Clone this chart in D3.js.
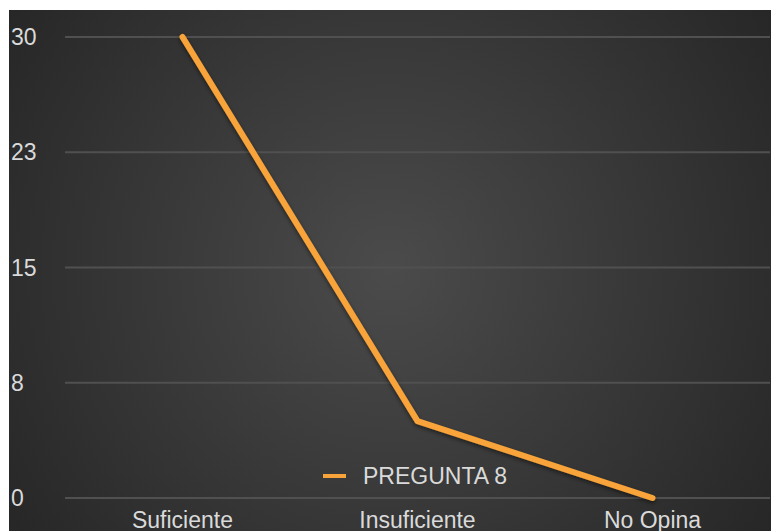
<!DOCTYPE html>
<html>
<head>
<meta charset="utf-8">
<script src="https://cdn.jsdelivr.net/npm/d3@7"></script>
<style>
  body { margin: 0; background: #fff; }
  svg { display: block; }
</style>
</head>
<body>
<script>
var categories = ["Suficiente", "Insuficiente", "No Opina"];
var values = [30, 5, 0];
var tickValues = [0, 7.5, 15, 22.5, 30];
var tickLabels = ["0", "8", "15", "23", "30"];
var seriesName = "PREGUNTA 8";

var width = 771, height = 531;
var panel = { x: 9, y: 10, w: 762, h: 521 };
var plot = { left: 65, right: 770, top: 37, bottom: 498 };
var lineColor = "#f9a43a";
var textColor = "#dadada";
var font = "'Liberation Sans', Arial, sans-serif";
var fontSize = "23px";

var svg = d3.select("body").append("svg")
  .attr("width", width)
  .attr("height", height);

var defs = svg.append("defs");
var grad = defs.append("radialGradient")
  .attr("id", "bg")
  .attr("gradientUnits", "userSpaceOnUse")
  .attr("cx", 390).attr("cy", 270).attr("r", 470);
grad.append("stop").attr("offset", "0%").attr("stop-color", "#4b4b4b");
grad.append("stop").attr("offset", "100%").attr("stop-color", "#262626");

var shadow = defs.append("filter").attr("id", "shadow")
  .attr("x", "-10%").attr("y", "-10%").attr("width", "120%").attr("height", "120%");
shadow.append("feDropShadow")
  .attr("dx", 0).attr("dy", 2).attr("stdDeviation", 2)
  .attr("flood-color", "#000").attr("flood-opacity", 0.5);

svg.append("rect")
  .attr("x", panel.x).attr("y", panel.y)
  .attr("width", panel.w).attr("height", panel.h)
  .attr("fill", "url(#bg)");

var x = d3.scalePoint()
  .domain(categories)
  .range([plot.left, plot.right])
  .padding(0.5);

var y = d3.scaleLinear()
  .domain([0, 30])
  .range([plot.bottom, plot.top]);

// gridlines
svg.append("g").selectAll("line")
  .data(tickValues)
  .enter().append("line")
  .attr("x1", plot.left).attr("x2", plot.right)
  .attr("y1", function(d) { return y(d); })
  .attr("y2", function(d) { return y(d); })
  .attr("stroke", "#505050")
  .attr("stroke-width", 2);

// y axis labels
svg.append("g").selectAll("text")
  .data(tickValues)
  .enter().append("text")
  .attr("x", 11)
  .attr("y", function(d) { return y(d); })
  .attr("dy", "0.35em")
  .attr("fill", textColor)
  .style("font-family", font)
  .style("font-size", fontSize)
  .text(function(d, i) { return tickLabels[i]; });

// x axis labels (clipped by the bottom edge, as in the original)
svg.append("g").selectAll("text")
  .data(categories)
  .enter().append("text")
  .attr("x", function(d) { return x(d); })
  .attr("y", 528)
  .attr("text-anchor", "middle")
  .attr("fill", textColor)
  .style("font-family", font)
  .style("font-size", fontSize)
  .text(function(d) { return d; });

// series line
var line = d3.line()
  .x(function(d, i) { return x(categories[i]); })
  .y(function(d) { return y(d); });

svg.append("path")
  .datum(values)
  .attr("d", line)
  .attr("fill", "none")
  .attr("stroke", lineColor)
  .attr("stroke-width", 6)
  .attr("stroke-linecap", "round")
  .attr("stroke-linejoin", "round")
  .attr("filter", "url(#shadow)");

// legend
var legend = svg.append("g");
legend.append("line")
  .attr("x1", 323).attr("x2", 346)
  .attr("y1", 476).attr("y2", 476)
  .attr("stroke", lineColor)
  .attr("stroke-width", 4);
legend.append("text")
  .attr("x", 363).attr("y", 476)
  .attr("dy", "0.35em")
  .attr("fill", textColor)
  .style("font-family", font)
  .style("font-size", fontSize)
  .text(seriesName);
</script>
</body>
</html>
